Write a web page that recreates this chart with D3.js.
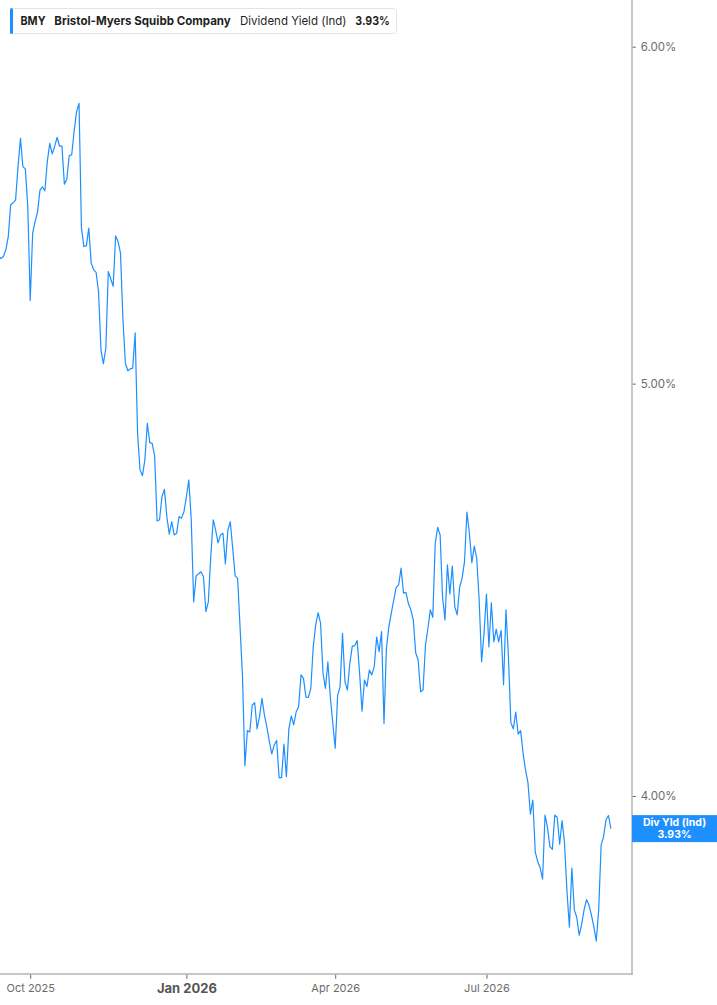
<!DOCTYPE html>
<html><head><meta charset="utf-8">
<script src="https://cdn.jsdelivr.net/npm/d3@7"></script>
<style>
body{margin:0;background:#fff;}
svg{display:block;font-family:Inter,"Noto Sans",sans-serif;}
</style>
</head><body>
<svg id="c" width="717" height="1005"></svg>
<script>
// Daily dividend yield (%), Sep 12 2025 – Sep 11 2026 (trading days)
const yieldValues = [
5.359,5.350,5.356,5.375,5.414,5.508,5.514,5.522,5.623,5.710,
5.623,5.616,5.503,5.230,5.424,5.458,5.487,5.552,5.562,5.550,
5.638,5.694,5.662,5.684,5.713,5.686,5.686,5.570,5.585,5.657,
5.659,5.731,5.793,5.819,5.439,5.385,5.387,5.439,5.337,5.318,
5.310,5.255,5.092,5.054,5.097,5.313,5.292,5.270,5.416,5.400,
5.366,5.176,5.056,5.035,5.040,5.042,5.139,4.868,4.772,4.757,
4.798,4.894,4.843,4.841,4.808,4.642,4.645,4.703,4.722,4.653,
4.609,4.640,4.607,4.611,4.653,4.649,4.665,4.703,4.746,4.645,
4.443,4.506,4.511,4.516,4.504,4.420,4.443,4.553,4.645,4.619,
4.587,4.607,4.611,4.535,4.619,4.640,4.573,4.506,4.500,4.384,
4.267,4.066,4.144,4.141,4.202,4.207,4.148,4.176,4.217,4.179,
4.152,4.120,4.092,4.112,4.122,4.040,4.040,4.114,4.042,4.148,
4.177,4.157,4.186,4.198,4.271,4.263,4.220,4.219,4.240,4.336,
4.388,4.417,4.392,4.275,4.240,4.301,4.220,4.161,4.105,4.224,
4.244,4.368,4.255,4.236,4.298,4.338,4.339,4.351,4.275,4.188,
4.259,4.244,4.282,4.271,4.290,4.359,4.325,4.372,4.160,4.333,
4.384,4.416,4.448,4.478,4.484,4.525,4.464,4.466,4.439,4.424,
4.400,4.322,4.305,4.232,4.236,4.340,4.380,4.424,4.406,4.586,
4.626,4.607,4.455,4.400,4.533,4.462,4.530,4.432,4.412,4.478,
4.500,4.541,4.664,4.611,4.538,4.579,4.549,4.448,4.301,4.368,
4.462,4.336,4.441,4.348,4.378,4.348,4.375,4.248,4.424,4.313,
4.162,4.148,4.186,4.136,4.144,4.094,4.057,4.029,3.961,3.991,
3.881,3.860,3.848,3.824,3.959,3.933,3.892,3.886,3.959,3.954,
3.897,3.947,3.899,3.798,3.726,3.847,3.761,3.746,3.710,3.731,
3.761,3.782,3.771,3.751,3.727,3.698,3.761,3.895,3.913,3.949,
3.958,3.930
];
const xTickIndex = [13, 77, 138, 200];
const xTickLabels = ["Oct 2025", "Jan 2026", "Apr 2026", "Jul 2026"];
const xTickMajor = [false, true, false, false];
const yTickValues = [4, 5, 6];
const ticker = "BMY";
const company = "Bristol-Myers Squibb Company";
const metric = "Dividend Yield (Ind)";
const shortMetric = "Div Yld (Ind)";

const W = 717, H = 1005;
const plotRight = 632, plotBottom = 974;
const blue = "#1e8fff";
const svg = d3.select("#c");

const x = d3.scaleLinear().domain([0, yieldValues.length - 1]).range([-1.5, 610.9]);
const y = d3.scaleLog().domain([4, 6]).range([796, 46.7]);

// frame
svg.append("line").attr("x1", plotRight).attr("x2", plotRight).attr("y1", 0).attr("y2", plotBottom + 0.75)
  .attr("stroke", "#b4b4b4").attr("stroke-width", 1.5);
svg.append("line").attr("x1", 0).attr("x2", plotRight + 0.75).attr("y1", plotBottom).attr("y2", plotBottom)
  .attr("stroke", "#b4b4b4").attr("stroke-width", 1.5);

// right axis
const ya = svg.append("g").attr("transform", `translate(${plotRight + 0.75},0)`)
  .call(d3.axisRight(y).tickValues(yTickValues).tickFormat(d => d.toFixed(2) + "%").tickSize(3).tickPadding(5));
ya.select(".domain").remove();
ya.selectAll(".tick line").attr("stroke", "#666");
ya.selectAll(".tick text").attr("fill", "#6b6b6b").style("font-size", "11.5px").style("font-family", "Inter,sans-serif");

// bottom axis
const xa = svg.append("g").attr("transform", `translate(0,${plotBottom + 0.75})`)
  .call(d3.axisBottom(x).tickValues(xTickIndex).tickFormat((d, i) => xTickLabels[i]).tickSize(4).tickPadding(5));
xa.select(".domain").remove();
xa.selectAll(".tick line").attr("stroke", "#666");
xa.selectAll(".tick text")
  .attr("fill", (d, i) => xTickMajor[i] ? "#555" : "#6b6b6b")
  .style("font-size", (d, i) => xTickMajor[i] ? "13px" : "11px")
  .style("font-weight", (d, i) => xTickMajor[i] ? "700" : "400")
  .style("font-family", "Inter,sans-serif");

// line
const line = d3.line().x((d, i) => x(i)).y(d => y(d));
svg.append("path").datum(yieldValues).attr("d", line)
  .attr("fill", "none").attr("stroke", blue).attr("stroke-width", 1.2).attr("stroke-linejoin", "round");

// last value label
const last = yieldValues[yieldValues.length - 1];
const ly = y(last);
svg.append("rect").attr("x", plotRight).attr("y", ly - 13.5).attr("width", W - plotRight).attr("height", 27).attr("fill", blue);
svg.append("text").attr("x", 674.5).attr("y", ly - 2.8).attr("text-anchor", "middle").attr("fill", "#fff")
  .style("font-size", "10.5px").style("font-weight", "700").text(shortMetric);
svg.append("text").attr("x", 674.5).attr("y", ly + 9.8).attr("text-anchor", "middle").attr("fill", "#fff")
  .style("font-size", "10.5px").style("font-weight", "700").text(last.toFixed(2) + "%");

// legend
const lg = svg.append("g");
lg.append("rect").attr("x", 10.5).attr("y", 8.5).attr("width", 386).attr("height", 25).attr("rx", 3)
  .attr("fill", "#fff").attr("stroke", "#e4e4e4");
lg.append("rect").attr("x", 10).attr("y", 8).attr("width", 3).attr("height", 26).attr("rx", 1.5).attr("fill", blue);
const lt = lg.append("text").attr("x", 20.5).attr("y", 25).attr("fill", "#1f1f1f").style("font-size", "12px");
lt.append("tspan").style("font-weight", "700").attr("textLength", 25).attr("lengthAdjust", "spacingAndGlyphs").text(ticker);
lt.append("tspan").attr("x", 54.3).style("font-weight", "700").attr("textLength", 176.5).attr("lengthAdjust", "spacingAndGlyphs").text(company);
lt.append("tspan").attr("x", 240).style("font-weight", "400").attr("textLength", 106.5).attr("lengthAdjust", "spacingAndGlyphs").text(metric);
lt.append("tspan").attr("x", 355.3).style("font-weight", "700").attr("textLength", 34.5).attr("lengthAdjust", "spacingAndGlyphs").text(last.toFixed(2) + "%");
</script>
</body></html>
